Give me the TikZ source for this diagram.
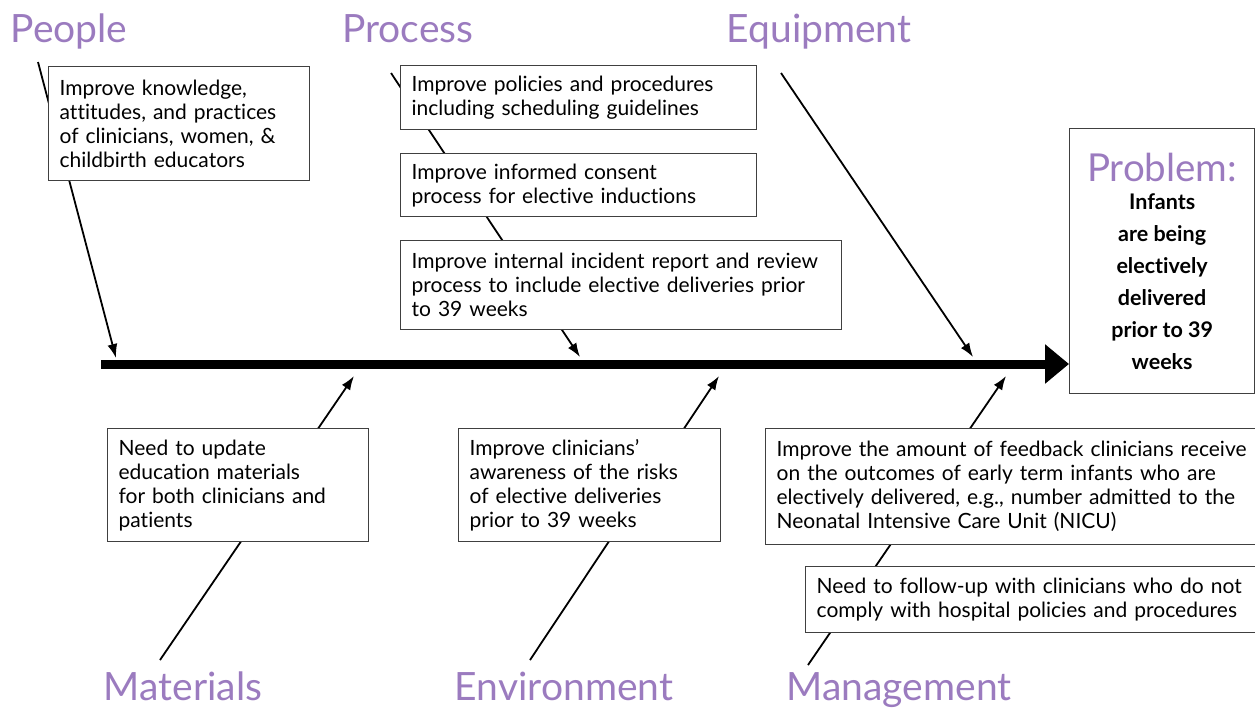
\documentclass[tikz,border=0pt]{standalone}
\usepackage{fontspec}
\setmainfont{Lato}[Ligatures={NoCommon}]
\usetikzlibrary{arrows.meta}
\definecolor{catpurple}{HTML}{9B7BBF}
\definecolor{boxline}{HTML}{404040}
\begin{document}
\begin{tikzpicture}[x=1pt,y=-1pt,
  cat/.style={text=catpurple, font=\fontsize{39}{42}\selectfont, anchor=base, inner sep=0pt},
  box/.style={draw=boxline, line width=1.3pt, fill=white, anchor=north west, align=left,
    inner xsep=11pt, inner ysep=0pt, font=\fontsize{21}{24}\selectfont},
  bone/.style={line width=1.8pt, -{Latex[length=14pt,width=10pt]}},
  spine/.style={line width=9pt, -{Triangle[length=24pt,width=38pt]}}
]
\useasboundingbox (0,0) rectangle (1255,707);

% category labels
\node[cat] (people) at (69,42) {People};
\node[cat] (process) at (408,42) {Process};
\node[cat] (equipment) at (819,42) {Equipment};
\node[cat] (materials) at (183,700) {Materials};
\node[cat] (environment) at (564,700) {Environment};
\node[cat] (management) at (899,700) {Management};

% problem box
\node[draw=boxline, line width=1.3pt, anchor=north west, minimum width=185pt, minimum height=265pt,
      align=center, inner sep=0pt, font=\bfseries\fontsize{21.5}{32}\selectfont] (problem) at (1069,128)
  {\textcolor{catpurple}{\mdseries\fontsize{38.5}{40}\selectfont Problem:}\\[-4pt]
   Infants\\are being\\electively\\delivered\\prior to 39\\weeks};

% bone end points
\coordinate (peopleS) at (38,62);   \coordinate (peopleT) at (116,358);
\coordinate (processS) at (391,73); \coordinate (processT) at (580,357);
\coordinate (equipS) at (781,73);   \coordinate (equipT) at (973,357);
\coordinate (matS) at (160,660);    \coordinate (matT) at (354,376);
\coordinate (envS) at (530,660);    \coordinate (envT) at (719,376);
\coordinate (mgmtS) at (808,665);   \coordinate (mgmtT) at (1006,376);
\coordinate (spineS) at (101,364);

% spine and bones
\draw[spine] (spineS) -- (spineS -| problem.west);
\draw[bone] (peopleS) -- (peopleT);
\draw[bone] (processS) -- (processT);
\draw[bone] (equipS) -- (equipT);
\draw[bone] (matS) -- (matT);
\draw[bone] (envS) -- (envT);
\draw[bone] (mgmtS) -- (mgmtT);

% cause boxes
\node[box, minimum width=261pt, text width=239pt, minimum height=114pt] (peopleBox) at (48,66)
  {Improve knowledge,\\attitudes, and practices\\of clinicians, women, \&\\childbirth educators};
\node[box, minimum width=356pt, text width=334pt, minimum height=64pt] (proc1) at (400,65)
  {Improve policies and procedures\\including scheduling guidelines};
\node[box, minimum width=356pt, text width=334pt, minimum height=63pt] (proc2) at (400,153)
  {Improve informed consent\\process for elective inductions};
\node[box, minimum width=441pt, text width=419pt, minimum height=89pt] (proc3) at (400,240)
  {Improve internal incident report and review\\process to include elective deliveries prior\\to 39 weeks};
\node[box, minimum width=261pt, text width=239pt, minimum height=113pt] (matBox) at (107,428)
  {Need to update\\education materials\\for both clinicians and\\patients};
\node[box, minimum width=262pt, text width=240pt, minimum height=113pt] (envBox) at (458,428)
  {Improve clinicians’\\awareness of the risks\\of elective deliveries\\prior to 39 weeks};
\node[box, minimum width=495pt, text width=473pt, minimum height=116pt] (mgmt1) at (765,428)
  {Improve the amount of feedback clinicians receive\\on the outcomes of early term infants who are\\electively delivered, e.g., number admitted to the\\Neonatal Intensive Care Unit (NICU)};
\node[box, minimum width=455pt, text width=433pt, minimum height=66pt] (mgmt2) at (805,566)
  {Need to follow-up with clinicians who do not\\comply with hospital policies and procedures};
\end{tikzpicture}
\end{document}
